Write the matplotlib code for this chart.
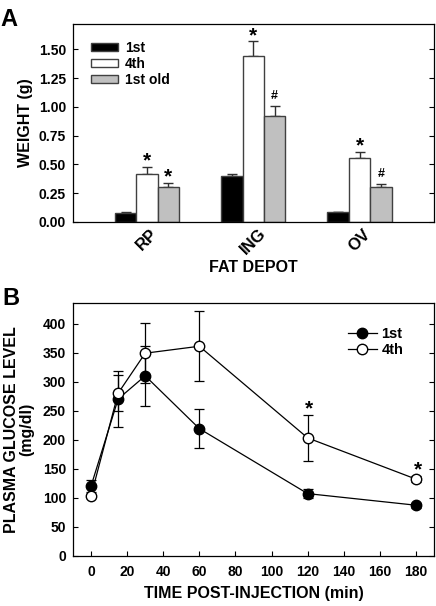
import numpy as np
import matplotlib.pyplot as plt

plt.rcParams['font.family'] = ['Liberation Sans', 'DejaVu Sans']
plt.rcParams['font.weight'] = 'bold'
plt.rcParams['axes.labelweight'] = 'bold'

# Panel A: fat depot weights
depots = ['RP', 'ING', 'OV']
groups = ['1st', '4th', '1st old']
weight = {
    '1st': [0.08, 0.40, 0.085],
    '4th': [0.42, 1.44, 0.56],
    '1st old': [0.30, 0.92, 0.30],
}
weight_err = {
    '1st': [0.005, 0.02, 0.005],
    '4th': [0.06, 0.13, 0.05],
    '1st old': [0.04, 0.09, 0.03],
}
weight_marks = {
    '1st': ['', '', ''],
    '4th': ['*', '*', '*'],
    '1st old': ['*', '#', '#'],
}
bar_colors = {'1st': 'black', '4th': 'white', '1st old': '#c0c0c0'}

# Panel B: glucose tolerance
time_min = [0, 15, 30, 60, 120, 180]
gluc_1st = [120, 270, 310, 219, 107, 87]
gluc_1st_err = [10, 48, 52, 34, 8, 4]
gluc_4th = [103, 280, 349, 361, 203, 132]
gluc_4th_err = [4, 31, 52, 60, 39, 5]
gluc_marks_4th = ['', '', '', '', '*', '*']

fig = plt.figure(figsize=(4.36, 6.06), dpi=100)

# ---- Panel A ----
axA = fig.add_axes([0.1674, 0.6337, 0.828, 0.3267])
x = np.arange(len(depots))
w = 0.202
for i, g in enumerate(groups):
    xs = x + (i - 1) * w
    axA.bar(xs, weight[g], w, color=bar_colors[g], edgecolor='#404040',
            linewidth=1.0, label=g, zorder=2)
    axA.errorbar(xs, weight[g], yerr=[np.zeros(3), weight_err[g]], fmt='none',
                 ecolor='#303030', elinewidth=1.0, capsize=3.5, capthick=1.0, zorder=1)
    for xi, yv, e, m in zip(xs, weight[g], weight_err[g], weight_marks[g]):
        if m == '*':
            axA.text(xi, yv + e + 0.05, m, ha='center', va='center', fontsize=15)
        elif m == '#':
            axA.text(xi, yv + e + 0.085, m, ha='center', va='center', fontsize=9)

axA.set_xlim(-0.696, 2.70)
axA.set_ylim(0, 1.72)
axA.set_yticks([0, 0.25, 0.5, 0.75, 1.0, 1.25, 1.5])
axA.set_yticklabels(['0.00', '0.25', '0.50', '0.75', '1.00', '1.25', '1.50'], fontsize=10)
axA.set_xticks(x)
axA.set_xticklabels(depots, rotation=45, ha='center', va='top', fontsize=12)
axA.tick_params(axis='x', length=0, pad=3)
axA.tick_params(axis='y', direction='in', length=3.5, right=True, width=0.8, pad=5)
axA.set_xlabel('FAT DEPOT', fontsize=11.5, labelpad=2)
axA.set_ylabel('WEIGHT (g)', fontsize=11.5, labelpad=4)
axA.legend(loc='upper left', bbox_to_anchor=(0.05, 0.915), frameon=False,
           borderpad=0, borderaxespad=0,
           fontsize=10, handlelength=1.95, handleheight=0.55, labelspacing=0.15,
           handletextpad=0.5)
for s in axA.spines.values():
    s.set_linewidth(0.9)
fig.text(0.002, 0.968, 'A', fontsize=17, fontweight='bold', va='center')

# ---- Panel B ----
axB = fig.add_axes([0.1674, 0.083, 0.828, 0.4165])
axB.errorbar(time_min, gluc_1st, yerr=gluc_1st_err, color='black', lw=0.9,
             marker='o', ms=7.5, mfc='black', mec='black', capsize=3.5,
             elinewidth=0.9, capthick=0.9, label='1st', zorder=3)
axB.errorbar(time_min, gluc_4th, yerr=gluc_4th_err, color='black', lw=0.9,
             marker='o', ms=7.5, mfc='white', mec='black', capsize=3.5,
             elinewidth=0.9, capthick=0.9, label='4th', zorder=4)
for t, yv, e, m in zip(time_min, gluc_4th, gluc_4th_err, gluc_marks_4th):
    if m:
        axB.text(t + 1, yv + e + 11, m, ha='center', va='center', fontsize=15)

axB.set_xlim(-10, 190)
axB.set_ylim(0, 435)
axB.set_xticks(np.arange(0, 181, 20))
axB.set_yticks(np.arange(0, 401, 50))
axB.tick_params(labelsize=10)
axB.tick_params(direction='in', length=3.5, right=True, width=0.8)
axB.tick_params(axis='x', pad=7)
axB.tick_params(axis='y', pad=5)
axB.set_xlabel('TIME POST-INJECTION (min)', fontsize=11.5, labelpad=5)
axB.set_ylabel('PLASMA GLUCOSE LEVEL\n(mg/dl)', fontsize=11.5, labelpad=6,
               linespacing=1.0)
handles, labels = axB.get_legend_handles_labels()
axB.legend([h[0] if isinstance(h, tuple) else h for h in handles], labels,
           loc='upper right', bbox_to_anchor=(0.915, 0.905), frameon=False,
           borderpad=0, borderaxespad=0,
           fontsize=10.5, handlelength=2.0, labelspacing=0.15, handletextpad=0.3)
for s in axB.spines.values():
    s.set_linewidth(0.9)
fig.text(0.005, 0.507, 'B', fontsize=17, fontweight='bold', va='center')

fig.savefig('out.png', dpi=100)
